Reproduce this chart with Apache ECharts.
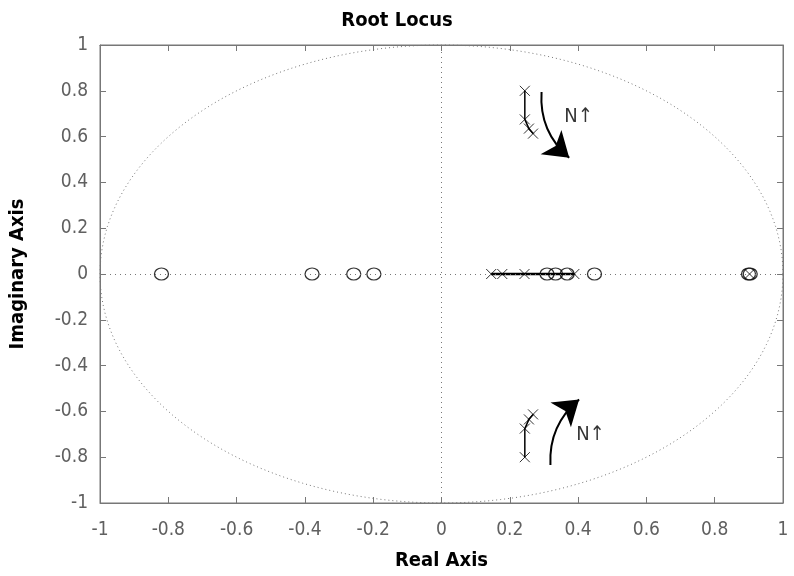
<!DOCTYPE html>
<html>
<head>
<meta charset="utf-8">
<script src="https://cdn.jsdelivr.net/npm/echarts@6/dist/echarts.min.js"></script>
<style>
  html, body { margin: 0; padding: 0; background: #fff; }
  #chart { width: 794px; height: 576px; }
</style>
</head>
<body>
<div id="chart"></div>
<script>
// tick labels
const tickVals = [-1, -0.8, -0.6, -0.4, -0.2, 0, 0.2, 0.4, 0.6, 0.8, 1];

// root locus branches (poles marked x)
const upperBranch = [[0.244, 0.80], [0.244, 0.675], [0.256, 0.635], [0.268, 0.613]];
const lowerBranch = [[0.244, -0.80], [0.244, -0.675], [0.256, -0.635], [0.268, -0.613]];
const realBranch = [[0.1455, 0], [0.178, 0], [0.243, 0], [0.389, 0]];
const poles = [
  [0.1455, 0], [0.178, 0], [0.243, 0], [0.389, 0], [0.902, 0],
  [0.244, 0.80], [0.244, 0.675], [0.256, 0.635], [0.268, 0.613],
  [0.244, -0.80], [0.244, -0.675], [0.256, -0.635], [0.268, -0.613]
];
// zeros marked o
const zeros = [
  [-0.82, 0], [-0.379, 0], [-0.257, 0], [-0.198, 0],
  [0.309, 0], [0.334, 0], [0.368, 0], [0.448, 0],
  [0.899, 0], [0.904, 0]
];
// annotation arrows and labels
const arrowUp = [[0.293, 0.795], [0.374, 0.508]];
const arrowDown = [[0.319, -0.834], [0.403, -0.548]];
const arrowLabels = [[0.401, 0.687], [0.436, -0.704]];

const gray = '#777';
const fnt = 'DejaVu Sans Condensed';

const chart = echarts.init(document.getElementById('chart'));

function axisBase(extra) {
  return Object.assign({
    type: 'value', min: -1, max: 1, interval: 0.2,
    axisLine: { show: true, onZero: false, lineStyle: { color: gray, width: 1 } },
    axisTick: { show: true, inside: true, length: 6, lineStyle: { color: gray } },
    splitLine: { show: false }
  }, extra);
}

function tickText(v) {
  const t = tickVals.find(k => Math.abs(k - v) < 1e-6);
  return String(t !== undefined ? t : v);
}

const option = {
  animation: false,
  backgroundColor: '#fff',
  title: {
    text: 'Root Locus', left: 'center', top: 6,
    textStyle: { fontFamily: fnt, fontSize: 20, fontWeight: 'bold', color: '#000' }
  },
  grid: { left: 100, right: 11, top: 45, bottom: 68, show: true, borderColor: gray, borderWidth: 1 },
  xAxis: [
    axisBase({
      position: 'bottom',
      name: 'Real Axis', nameLocation: 'middle', nameGap: 48,
      nameTextStyle: { fontFamily: fnt, fontSize: 20, fontWeight: 'bold', color: '#000' },
      axisLabel: { fontFamily: fnt, fontSize: 19, color: '#606060', margin: 18, formatter: tickText }
    }),
    axisBase({ position: 'top', axisLabel: { show: false } })
  ],
  yAxis: [
    axisBase({
      position: 'left',
      name: 'Imaginary Axis', nameLocation: 'middle', nameGap: 72,
      nameTextStyle: { fontFamily: fnt, fontSize: 20, fontWeight: 'bold', color: '#000' },
      axisLabel: { fontFamily: fnt, fontSize: 19, color: '#606060', margin: 12, formatter: tickText }
    }),
    axisBase({ position: 'right', axisLabel: { show: false } })
  ],
  series: [
    {
      // unit circle, drawn through the axis scales
      type: 'custom',
      silent: true,
      data: [[0, 0, 1]],
      renderItem: function (params, api) {
        const pts = [];
        const r = api.value(2);
        for (let i = 0; i <= 360; i += 2) {
          const a = i * Math.PI / 180;
          pts.push(api.coord([r * Math.cos(a), r * Math.sin(a)]));
        }
        return {
          type: 'polyline',
          shape: { points: pts },
          style: { stroke: gray, lineWidth: 1, lineDash: [1, 3], fill: null }
        };
      },
      markLine: {
        silent: true, symbol: 'none', label: { show: false },
        lineStyle: { color: gray, type: [1, 4], width: 1 },
        data: [{ xAxis: 0 }, { yAxis: 0 }]
      },
      z: 1
    },
    {
      type: 'line', data: upperBranch, showSymbol: false,
      lineStyle: { color: '#000', width: 1.5 }, z: 3
    },
    {
      type: 'line', data: lowerBranch, showSymbol: false,
      lineStyle: { color: '#000', width: 1.5 }, z: 3
    },
    {
      type: 'line', data: realBranch, showSymbol: false,
      lineStyle: { color: '#000', width: 2.5 }, z: 3
    },
    {
      type: 'scatter', data: poles,
      symbol: 'path://M0,0L1,1M1,0L0,1', symbolSize: 10,
      itemStyle: { color: 'none', borderColor: '#000', borderWidth: 1 }, z: 4
    },
    {
      type: 'scatter', data: zeros,
      symbol: 'circle', symbolSize: [14, 12],
      itemStyle: { color: 'none', borderColor: '#000', borderWidth: 1.2 }, z: 4
    },
    {
      type: 'lines', coordinateSystem: 'cartesian2d',
      data: [
        { coords: arrowUp, lineStyle: { curveness: -0.25 } },
        { coords: arrowDown, lineStyle: { curveness: 0.25 } }
      ],
      symbol: ['none', 'arrow'], symbolSize: [16, 24],
      lineStyle: { color: '#000', width: 2, opacity: 1 }, z: 5
    },
    {
      type: 'scatter', data: arrowLabels, symbolSize: 0,
      label: { show: true, position: 'inside', formatter: 'N\u2191',
        fontFamily: fnt, fontSize: 20, color: '#000' }, z: 5
    }
  ]
};

chart.setOption(option);
</script>
</body>
</html>
